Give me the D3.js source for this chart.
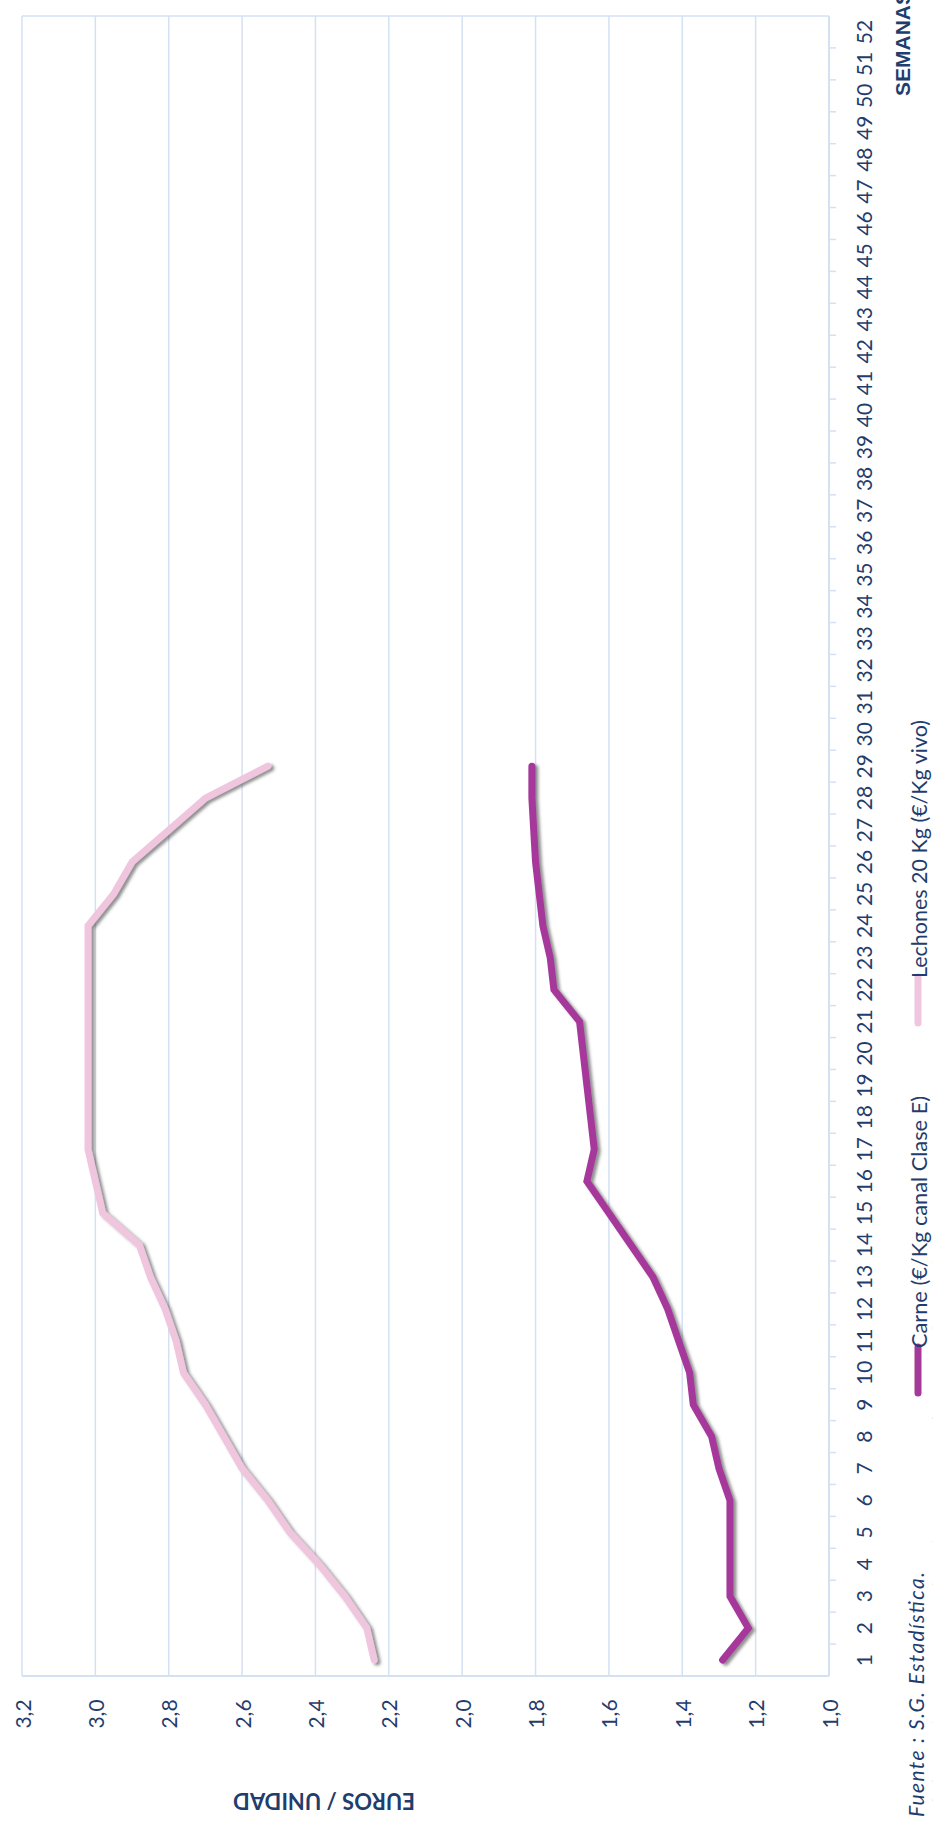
<!DOCTYPE html>
<html>
<head>
<meta charset="utf-8">
<script src="https://cdn.jsdelivr.net/npm/d3@7"></script>
<style>
  body { margin: 0; background: #fff; }
  svg { display: block; }
</style>
</head>
<body>
<div id="chart"></div>
<script>
const weeks = [1, 2, 3, 4, 5, 6, 7, 8, 9, 10, 11, 12, 13, 14, 15, 16, 17, 18, 19, 20, 21, 22, 23, 24, 25, 26,
  27, 28, 29, 30, 31, 32, 33, 34, 35, 36, 37, 38, 39, 40, 41, 42, 43, 44, 45, 46, 47, 48, 49, 50, 51, 52];

// precios semanales (solo hasta la semana 29)
const carne = [1.29, 1.22, 1.27, 1.27, 1.27, 1.27, 1.30, 1.32, 1.37, 1.38, 1.41, 1.44, 1.48, 1.54, 1.60,
  1.66, 1.64, 1.65, 1.66, 1.67, 1.68, 1.75, 1.76, 1.78, 1.79, 1.80, 1.805, 1.81, 1.81];
const lechones = [2.24, 2.26, 2.32, 2.39, 2.47, 2.53, 2.60, 2.65, 2.70, 2.76, 2.78, 2.81, 2.85, 2.88, 2.98,
  3.00, 3.02, 3.02, 3.02, 3.02, 3.02, 3.02, 3.02, 3.02, 2.95, 2.90, 2.80, 2.70, 2.53];

const valueTicks = [1.0, 1.2, 1.4, 1.6, 1.8, 2.0, 2.2, 2.4, 2.6, 2.8, 3.0, 3.2];
const seriesNames = ['Carne (€/Kg canal Clase E)', 'Lechones 20 Kg (€/Kg vivo)'];
const seriesColors = ['#a5399a', '#f0c6df'];

const width = 933;
const height = 1822;
const plot = {left: 22, right: 829, top: 16, bottom: 1676};
const textColor = '#1f3d6d';
const gridColor = '#d4e1f3';
const font = 'Lato, "Noto Sans", sans-serif';

const svg = d3
  .select('#chart')
  .append('svg')
  .attr('width', width)
  .attr('height', height);

// sombra de las lineas
const filter = svg.append('defs').append('filter')
  .attr('id', 'shadow')
  .attr('x', '-20%').attr('y', '-20%')
  .attr('width', '140%').attr('height', '140%');
filter.append('feDropShadow')
  .attr('dx', 3)
  .attr('dy', 2)
  .attr('stdDeviation', 1.6)
  .attr('flood-color', '#4a4a4a')
  .attr('flood-opacity', 0.6);

// el grafico esta girado: valores en horizontal, semanas en vertical
const xScale = d3.scaleLinear().domain([1.0, 3.2]).range([plot.right, plot.left]);
const yScale = d3.scaleBand().domain(weeks).range([plot.bottom, plot.top]);
const bw = yScale.bandwidth();
const yCenter = (w) => yScale(w) + bw / 2;

// rejilla
svg.append('g')
  .selectAll('line')
  .data(valueTicks.filter((v) => v !== 1.0))
  .join('line')
  .attr('x1', (d) => xScale(d))
  .attr('x2', (d) => xScale(d))
  .attr('y1', plot.top)
  .attr('y2', plot.bottom)
  .attr('stroke', gridColor)
  .attr('stroke-width', 1.5);

svg.append('line')
  .attr('x1', plot.left).attr('x2', plot.right)
  .attr('y1', plot.top).attr('y2', plot.top)
  .attr('stroke', gridColor).attr('stroke-width', 1.5);
svg.append('line')
  .attr('x1', plot.left).attr('x2', plot.right)
  .attr('y1', plot.bottom).attr('y2', plot.bottom)
  .attr('stroke', gridColor).attr('stroke-width', 2);

// eje de semanas
svg.append('line')
  .attr('x1', plot.right).attr('x2', plot.right)
  .attr('y1', plot.top).attr('y2', plot.bottom)
  .attr('stroke', gridColor).attr('stroke-width', 2);

svg.append('g')
  .selectAll('line')
  .data(weeks.slice(1))
  .join('line')
  .attr('x1', plot.right)
  .attr('x2', plot.right + 7)
  .attr('y1', (d) => yScale(d) + bw)
  .attr('y2', (d) => yScale(d) + bw)
  .attr('stroke', gridColor)
  .attr('stroke-width', 1.5);

svg.append('g')
  .selectAll('text')
  .data(weeks)
  .join('text')
  .attr('transform', (d) => `translate(863,${yCenter(d)}) rotate(-90)`)
  .attr('text-anchor', 'middle')
  .attr('dominant-baseline', 'central')
  .style('font-family', font)
  .style('font-size', '21px')
  .attr('fill', textColor)
  .text((d) => d);

// etiquetas de valores
const fmt = (v) => d3.format('.1f')(v).replace('.', ',');
svg.append('g')
  .selectAll('text')
  .data(valueTicks)
  .join('text')
  .attr('transform', (d) => `translate(${xScale(d)},1714) rotate(-90)`)
  .attr('text-anchor', 'middle')
  .attr('dominant-baseline', 'central')
  .style('font-family', font)
  .style('font-size', '21px')
  .attr('fill', textColor)
  .text((d) => fmt(d));

// titulos de ejes
svg.append('text')
  .attr('transform', 'translate(324,1801) rotate(180)')
  .attr('text-anchor', 'middle')
  .attr('dominant-baseline', 'central')
  .style('font-family', font)
  .style('font-size', '22px')
  .style('font-weight', 'bold')
  .attr('fill', textColor)
  .text('EUROS / UNIDAD');

svg.append('text')
  .attr('transform', 'translate(902,96) rotate(-90)')
  .attr('text-anchor', 'start')
  .attr('dominant-baseline', 'central')
  .style('font-family', '"Liberation Sans", Arial, sans-serif')
  .style('font-size', '21px')
  .style('font-weight', 'bold')
  .attr('fill', textColor)
  .text('SEMANAS');

// lineas
const series = [carne, lechones];
const line = d3.line()
  .x((d) => xScale(d))
  .y((d, i) => yCenter(weeks[i]));

svg.append('g')
  .selectAll('path')
  .data(series)
  .join('path')
  .attr('fill', 'none')
  .attr('stroke', (d, i) => seriesColors[i])
  .attr('stroke-width', 7)
  .attr('stroke-linecap', 'round')
  .attr('stroke-linejoin', 'miter')
  .attr('filter', 'url(#shadow)')
  .attr('d', (d) => line(d));

// leyenda
const legendPos = [1393, 1023];
const legendLen = [252, 258];
const legend = svg.append('g')
  .selectAll('g')
  .data(seriesNames)
  .join('g');
legend.append('line')
  .attr('x1', 918).attr('x2', 918)
  .attr('y1', (d, i) => legendPos[i])
  .attr('y2', (d, i) => legendPos[i] - 46)
  .attr('stroke', (d, i) => seriesColors[i])
  .attr('stroke-width', 7)
  .attr('stroke-linecap', 'round');
legend.append('text')
  .attr('transform', (d, i) => `translate(918,${legendPos[i] - 45}) rotate(-90)`)
  .attr('text-anchor', 'start')
  .attr('dominant-baseline', 'central')
  .attr('textLength', (d, i) => legendLen[i])
  .attr('lengthAdjust', 'spacingAndGlyphs')
  .style('font-family', font)
  .style('font-size', '21px')
  .attr('fill', textColor)
  .text((d) => d);

// fuente
svg.append('text')
  .attr('transform', 'translate(915,1817) rotate(-90)')
  .attr('dominant-baseline', 'central')
  .attr('textLength', 245)
  .attr('lengthAdjust', 'spacing')
  .style('font-family', font)
  .style('font-size', '21px')
  .style('font-style', 'italic')
  .attr('fill', textColor)
  .text('Fuente : S.G. Estadística.');
svg.append('text')
  .attr('transform', 'translate(940,1817) rotate(-90)')
  .attr('dominant-baseline', 'central')
  .style('font-family', font)
  .style('font-size', '21px')
  .style('font-style', 'italic')
  .style('letter-spacing', '2px')
  .attr('fill', textColor)
  .text('Elaboración: S.G. Producciones Ganaderas y Cinegéticas.');
</script>
</body>
</html>
